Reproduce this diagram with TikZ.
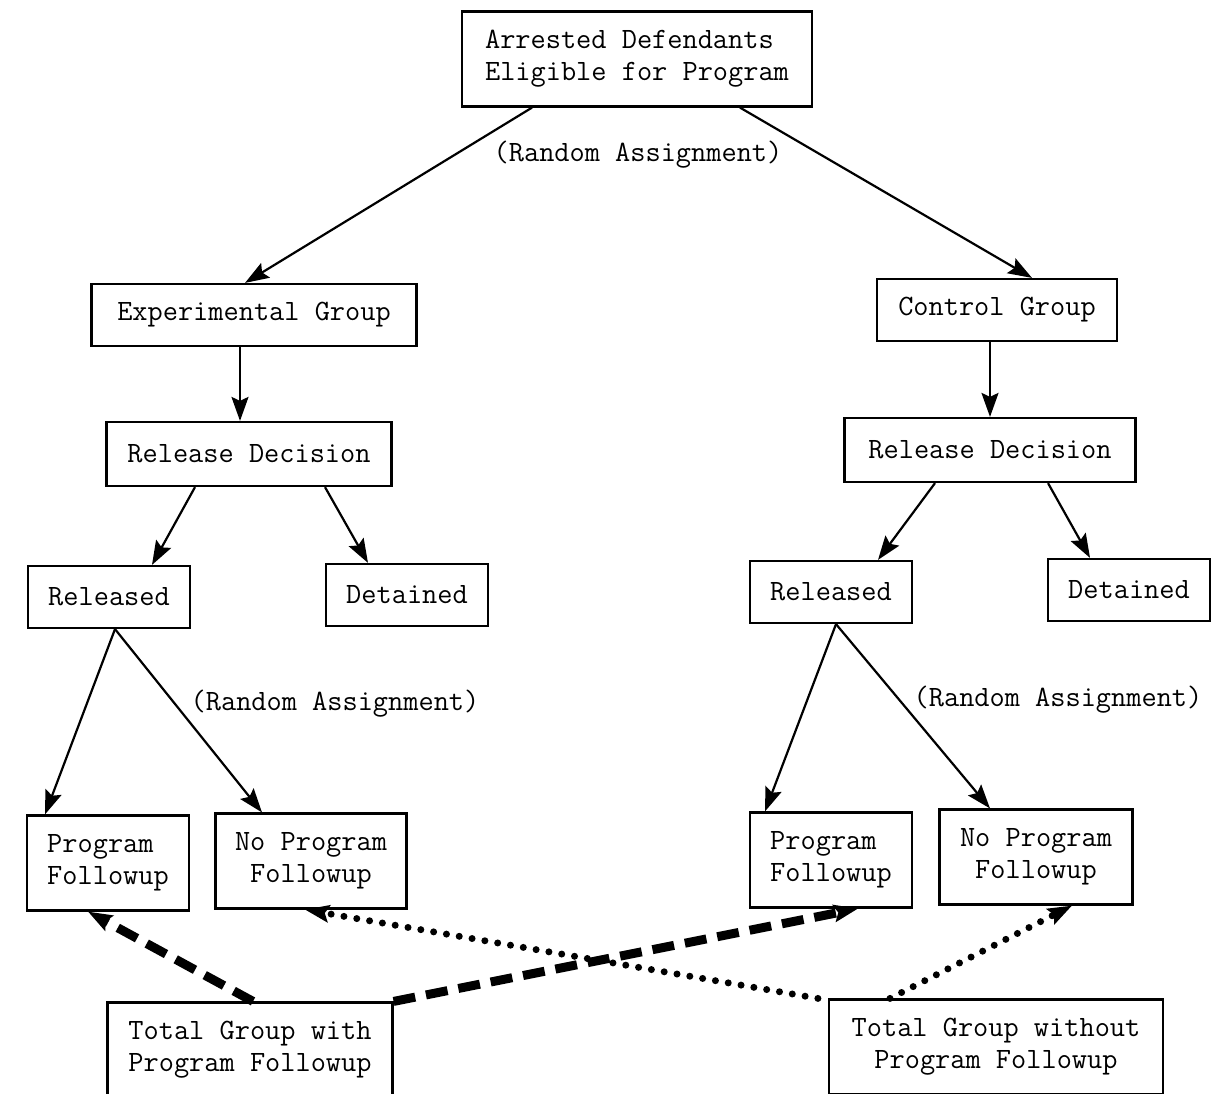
\documentclass[tikz,border=0pt]{standalone}
\usetikzlibrary{arrows.meta}
\begin{document}
\begin{tikzpicture}[x=1pt,y=-1pt,
    box/.style={
% The shape:
rectangle,
% The size:
minimum height=62pt,
inner xsep=0pt,
% The border:
line width=2.2pt, draw,
% The text:
font=\fontsize{29.5}{32}\selectfont\ttfamily, align=center
},
    tallbox/.style={
% The shape:
box,
% The size:
minimum height=95pt,
},
    note/.style={font=\fontsize{29.5}{32}\selectfont\ttfamily},
    link/.style={line width=2.2pt, -{Stealth[length=24pt,width=17pt,inset=4pt]}},
    withlink/.style={link, line width=9pt, dash pattern=on 22pt off 11pt},
    withoutlink/.style={link, line width=7pt, line cap=round, dash pattern=on 0pt off 13pt},
]
  \useasboundingbox (0,0) rectangle (1225,1093);

  \node[tallbox,minimum width=350pt,align=left] (arrested) at (637, 59) {Arrested Defendants\\Eligible for Program};
  \node[note]                                   (rand)     at (638, 155) {(Random Assignment)};

  % experimental side
  \node[box,minimum width=325pt]                (expgrp)    at (254, 315) {Experimental Group};
  \node[box,minimum width=285pt,minimum height=64pt] (expdec) at (249, 454) {Release Decision};
  \node[box,minimum width=162pt]                (exprel)    at (109, 597) {Released};
  \node[box,minimum width=162pt]                (expdet)    at (407, 595) {Detained};
  \node[note]                                   (exprand)   at (335, 704) {(Random Assignment)};
  \node[tallbox,minimum width=162pt,align=left] (expprog)   at (108, 863) {Program\\Followup};
  \node[tallbox,minimum width=191pt]            (expnoprog) at (311, 861) {No Program\\Followup};

  % control side
  \node[box,minimum width=240pt]                (ctlgrp)    at (997, 310) {Control Group};
  \node[box,minimum width=291pt,minimum height=64pt] (ctldec) at (990, 450) {Release Decision};
  \node[box,minimum width=162pt]                (ctlrel)    at (831, 592) {Released};
  \node[box,minimum width=162pt]                (ctldet)    at (1129, 590) {Detained};
  \node[note]                                   (ctlrand)   at (1058, 700) {(Random Assignment)};
  \node[tallbox,minimum width=162pt,align=left] (ctlprog)   at (831, 860) {Program\\Followup};
  \node[tallbox,minimum width=193pt]            (ctlnoprog) at (1036, 857) {No Program\\Followup};

  % totals
  \node[tallbox,minimum width=285pt]            (totwith)    at (250, 1050) {Total Group with\\Program Followup};
  \node[tallbox,minimum width=334pt]            (totwithout) at (996, 1047) {Total Group without\\Program Followup};

  \draw[link] ([xshift=-105pt]arrested.south) -- ([xshift=-9pt]expgrp.north);
  \draw[link] ([xshift=103pt]arrested.south)  -- ([xshift=35pt]ctlgrp.north);

  \draw[link] ([xshift=-14pt]expgrp.south) -- ([xshift=-9pt]expdec.north);
  \draw[link] ([xshift=-54pt]expdec.south) -- ([xshift=43pt]exprel.north);
  \draw[link] ([xshift=76pt]expdec.south)  -- ([xshift=-39pt]expdet.north);
  \draw[link] ([xshift=6pt]exprel.south)   -- ([xshift=-63pt]expprog.north);
  \draw[link] ([xshift=6pt]exprel.south)   -- ([xshift=-49pt]expnoprog.north);

  \draw[link] ([xshift=-7pt]ctlgrp.south)  -- (ctldec.north);
  \draw[link] ([xshift=-55pt]ctldec.south) -- ([xshift=47pt]ctlrel.north);
  \draw[link] ([xshift=58pt]ctldec.south)  -- ([xshift=-39pt]ctldet.north);
  \draw[link] ([xshift=5pt]ctlrel.south)   -- ([xshift=-66pt]ctlprog.north);
  \draw[link] ([xshift=5pt]ctlrel.south)   -- ([xshift=-46pt]ctlnoprog.north);

  \draw[withlink] ([xshift=3pt]totwith.north) -- ([xshift=-20pt]expprog.south);
  \draw[withlink] (totwith.north east)        -- ([xshift=27pt]ctlprog.south);
  \draw[withoutlink] ([xshift=-10pt]totwithout.north west) -- ([xshift=-6pt]expnoprog.south);
  \draw[withoutlink] ([xshift=-106pt]totwithout.north)     -- ([xshift=36pt]ctlnoprog.south);
\end{tikzpicture}
\end{document}
